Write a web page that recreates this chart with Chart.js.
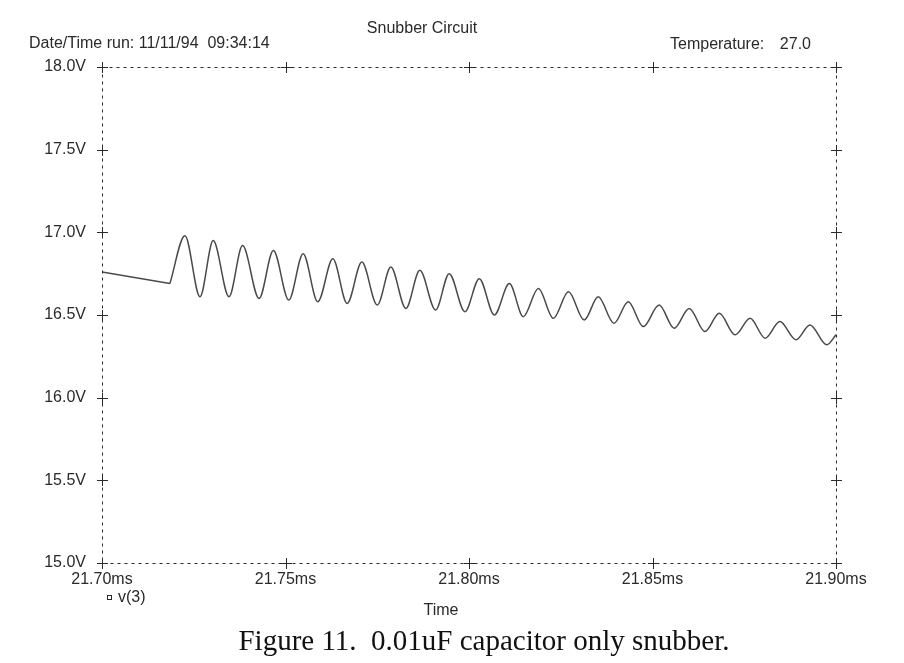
<!DOCTYPE html>
<html>
<head>
<meta charset="utf-8">
<script src="https://cdn.jsdelivr.net/npm/chart.js@4.4.0/dist/chart.umd.min.js"></script>
<style>
  html, body { margin: 0; padding: 0; background: #fff; }
  #wrap { width: 904px; height: 663px; position: relative; }
</style>
</head>
<body>
<div id="wrap"><canvas id="snubChart" width="904" height="663"></canvas></div>
<script>
// time in ms, voltage of node 3
const timeMs = [
  21.7000, 21.7185,
  21.7226, 21.7267, 21.7303, 21.7346, 21.7383, 21.7428, 21.7467, 21.7509,
  21.7548, 21.7588, 21.7629, 21.7668, 21.7708, 21.7750, 21.7787, 21.7828,
  21.7866, 21.7909, 21.7946, 21.7989, 21.8028, 21.8069, 21.8110, 21.8148,
  21.8189, 21.8230, 21.8271, 21.8314, 21.8352, 21.8395, 21.8434, 21.8475,
  21.8518, 21.8559, 21.8600, 21.8643, 21.8682, 21.8725, 21.8766, 21.8807,
  21.8847, 21.8891, 21.8929, 21.8975, 21.9000
];
const v3 = [
  16.76, 16.69,
  16.98, 16.61, 16.95, 16.61, 16.92, 16.60, 16.89, 16.59,
  16.87, 16.58, 16.84, 16.57, 16.82, 16.56, 16.79, 16.54,
  16.77, 16.53, 16.75, 16.52, 16.72, 16.50, 16.69, 16.49,
  16.66, 16.48, 16.64, 16.47, 16.61, 16.45, 16.58, 16.43,
  16.56, 16.42, 16.54, 16.40, 16.51, 16.38, 16.48, 16.36,
  16.46, 16.35, 16.44, 16.32, 16.38
];
const xTicks = [21.70, 21.75, 21.80, 21.85, 21.90];
const yTicks = [15.0, 15.5, 16.0, 16.5, 17.0, 17.5, 18.0];

const pts = timeMs.map((t, i) => ({ x: t, y: v3[i] }));
const ramp = pts.slice(0, 2);
const ring = pts.slice(1);

const INK = '#2a2a2a';
const SANS = '"Liberation Sans", Arial, sans-serif';

// dotted frame with "+" marks at every tick, plus the header/footer texts
const probeFrame = {
  id: 'probeFrame',
  afterDraw(chart) {
    const { ctx, chartArea: a, scales } = chart;
    ctx.save();
    ctx.strokeStyle = INK;
    ctx.lineWidth = 1;
    ctx.setLineDash([3, 4]);
    ctx.strokeRect(a.left + 0.5, a.top + 0.5, a.right - a.left, a.bottom - a.top);
    ctx.setLineDash([]);

    const plus = (x, y) => {
      ctx.beginPath();
      ctx.moveTo(x - 5, y + 0.5); ctx.lineTo(x + 6, y + 0.5);
      ctx.moveTo(x + 0.5, y - 5); ctx.lineTo(x + 0.5, y + 6);
      ctx.stroke();
    };
    xTicks.forEach(t => {
      const px = Math.round(scales.x.getPixelForValue(t));
      plus(px, Math.round(a.top));
      plus(px, Math.round(a.bottom));
    });
    yTicks.forEach(v => {
      const py = Math.round(scales.y.getPixelForValue(v));
      plus(Math.round(a.left), py);
      plus(Math.round(a.right), py);
    });

    ctx.fillStyle = INK;
    ctx.font = '16px ' + SANS;
    ctx.textBaseline = 'middle';
    ctx.textAlign = 'center';
    ctx.fillText('Snubber Circuit', 422, 29);
    ctx.textAlign = 'left';
    ctx.fillText('Date/Time run: 11/11/94  09:34:14', 29, 44);
    ctx.fillText('Temperature:', 670, 45);
    ctx.textAlign = 'right';
    ctx.fillText('27.0', 811, 45);

    ctx.textAlign = 'center';
    ctx.fillText('Time', 441, 611);

    // legend marker
    ctx.strokeRect(107.5, 595.5, 4, 4);
    ctx.textAlign = 'left';
    ctx.fillText('v(3)', 118, 598);

    ctx.fillStyle = '#111';
    ctx.font = '29px "Liberation Serif", "Times New Roman", serif';
    ctx.textAlign = 'center';
    ctx.textBaseline = 'alphabetic';
    ctx.fillText('Figure 11.  0.01uF capacitor only snubber.', 484, 650);
    ctx.restore();
  }
};

new Chart(document.getElementById('snubChart'), {
  type: 'line',
  data: {
    datasets: [{
      data: ramp,
      borderColor: '#4a4a4a',
      borderWidth: 1.5,
      pointRadius: 0,
      tension: 0
    }, {
      data: ring,
      borderColor: '#4a4a4a',
      borderWidth: 1.5,
      pointRadius: 0,
      cubicInterpolationMode: 'monotone'
    }]
  },
  options: {
    responsive: false,
    animation: false,
    events: [],
    layout: { padding: { left: 12, top: 67, right: 68, bottom: 0 } },
    plugins: { legend: { display: false }, title: { display: false }, tooltip: { enabled: false } },
    scales: {
      x: {
        type: 'linear',
        min: 21.70,
        max: 21.90,
        afterFit: s => { s.height = 100; },
        afterBuildTicks: s => { s.ticks = xTicks.map(v => ({ value: v })); },
        grid: { display: false, drawTicks: false },
        border: { display: false },
        ticks: {
          padding: 7,
          color: INK,
          font: { family: SANS, size: 16 },
          maxRotation: 0,
          callback: v => v.toFixed(2) + 'ms'
        }
      },
      y: {
        min: 15.0,
        max: 18.0,
        afterFit: s => { s.width = 90; },
        afterBuildTicks: s => { s.ticks = yTicks.map(v => ({ value: v })); },
        grid: { display: false, drawTicks: false },
        border: { display: false },
        ticks: {
          padding: 16,
          color: INK,
          font: { family: SANS, size: 16 },
          callback: v => v.toFixed(1) + 'V'
        }
      }
    }
  },
  plugins: [probeFrame]
});
</script>
</body>
</html>
